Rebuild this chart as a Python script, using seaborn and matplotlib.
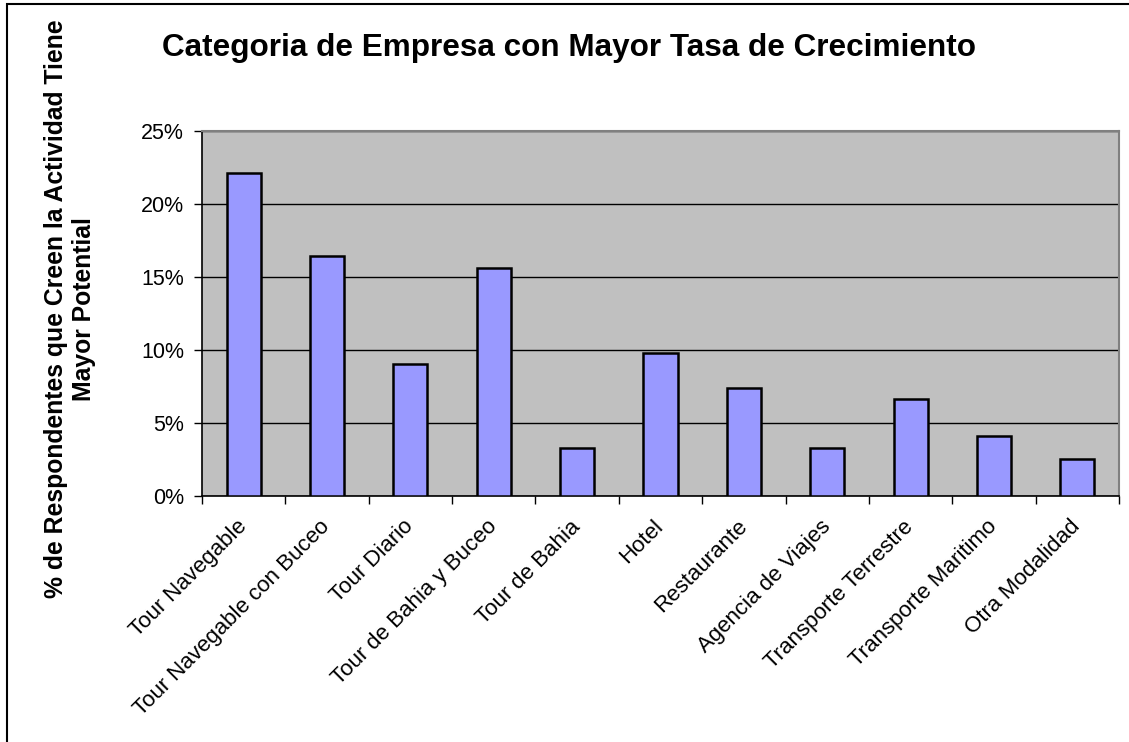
import matplotlib
matplotlib.use("Agg")
import matplotlib.pyplot as plt
import matplotlib.ticker as mtick
import matplotlib.transforms as mtrans
import seaborn as sns
import pandas as pd
import numpy as np

categorias = ["Tour Navegable", "Tour Navegable con Buceo", "Tour Diario",
              "Tour de Bahia y Buceo", "Tour de Bahia", "Hotel", "Restaurante",
              "Agencia de Viajes", "Transporte Terrestre", "Transporte Maritimo",
              "Otra Modalidad"]
porcentajes = [0.221, 0.164, 0.090, 0.156, 0.033, 0.098, 0.074, 0.033, 0.066, 0.041, 0.025]
y_ticks = [0, 0.05, 0.10, 0.15, 0.20, 0.25]

df = pd.DataFrame({"categoria": categorias, "pct": porcentajes})

sns.set_style("white")
plt.rcParams['font.family'] = ['Liberation Sans', 'DejaVu Sans']
plt.rcParams.update({'text.color': 'black', 'axes.labelcolor': 'black',
                     'xtick.color': 'black', 'ytick.color': 'black'})

fig = plt.figure(figsize=(11.29, 7.42), dpi=100)
ax = fig.add_axes([202/1129, 1-495.7/742, (1119-202)/1129, (495.7-131)/742])
ax.set_facecolor('#C0C0C0')

sns.barplot(data=df, x="categoria", y="pct", color='#9999FF', edgecolor='black',
            linewidth=1.8, width=0.41, saturation=1, ax=ax, zorder=3)

ax.set_ylim(0, 0.25)
ax.set_xlim(-0.5, len(categorias) - 0.5)
ax.set_yticks(y_ticks)
ax.yaxis.set_major_formatter(mtick.PercentFormatter(1.0, decimals=0))
ax.yaxis.grid(True, color='black', linewidth=1.0, zorder=0)
ax.set_axisbelow(True)

# tick marks between categories, labels at bar centers
ax.set_xticks(np.arange(len(categorias)))
ax.set_xticklabels(categorias, rotation=45, ha='right', va='center',
                   rotation_mode='anchor', fontsize=16)
shift = mtrans.ScaledTranslation(-7/100, -2/100, fig.dpi_scale_trans)
for lbl in ax.get_xticklabels():
    lbl.set_transform(lbl.get_transform() + shift)
ax.set_xticks(np.arange(-0.5, len(categorias)), minor=True)
ax.tick_params(axis='x', which='major', length=0, pad=20)
ax.tick_params(axis='x', which='minor', length=6, width=1, color='black', direction='out', bottom=True)
ax.tick_params(axis='y', length=6, width=1, color='black', direction='out', labelsize=15.5, pad=7, left=True)

ax.set_xlabel("")
ax.set_ylabel("")
for s in ['top', 'right']:
    ax.spines[s].set_color('#808080')
    ax.spines[s].set_linewidth(1.5)
for s in ['left', 'bottom']:
    ax.spines[s].set_color('black')
    ax.spines[s].set_linewidth(1.2)

fig.text(569/1129, 1-48/742, "Categoria de Empresa con Mayor Tasa de Crecimiento",
         ha='center', va='center', fontsize=22.7, fontweight='bold')
fig.text(70/1129, 1-309/742,
         "% de Respondentes que Creen la Actividad Tiene\nMayor Potential",
         ha='center', va='center', rotation=90, fontsize=17.8, fontweight='bold',
         multialignment='center', linespacing=1.2)

# outer chart frame
fig.add_artist(plt.Rectangle((7/1129, -0.01), 1.1, 1 - 4/742 + 0.01, transform=fig.transFigure,
                             fill=False, edgecolor='black', linewidth=1.5))

fig.savefig("out.png", dpi=100)
